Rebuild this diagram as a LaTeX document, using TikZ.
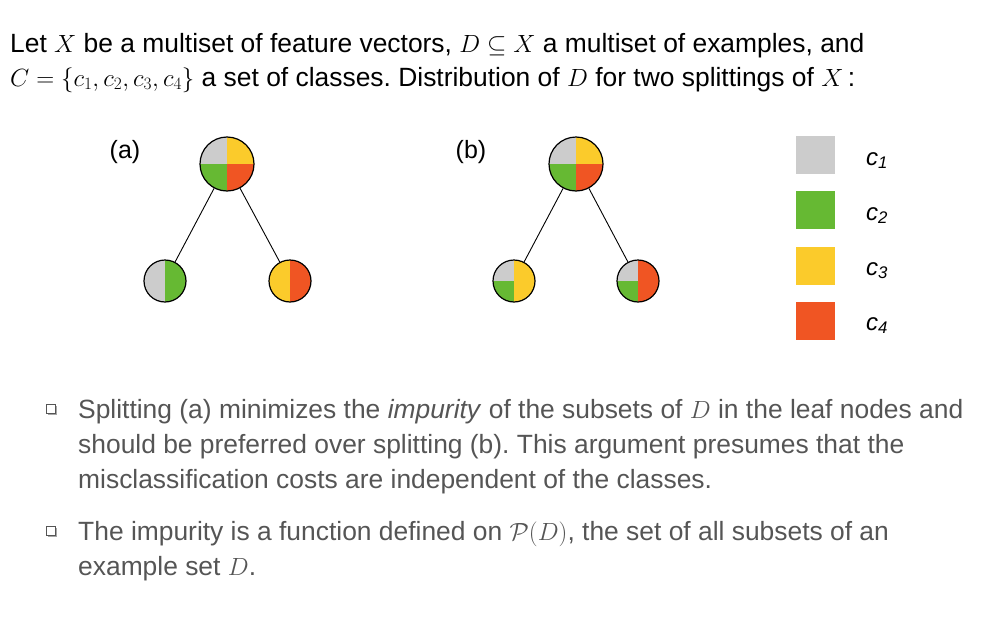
\documentclass[tikz,border=0pt]{standalone}
\usepackage[no-math]{fontspec}
\setmainfont{Liberation Sans}
\frenchspacing
\definecolor{cgray}{RGB}{204,204,204}
\definecolor{cgreen}{RGB}{102,185,51}
\definecolor{cyellow}{RGB}{251,203,43}
\definecolor{cred}{RGB}{240,85,35}
\definecolor{btext}{RGB}{85,85,85}
\newcommand{\pieq}[5]{\fill[#5] (#1) -- ++(#3:#2) arc[start angle=#3,end angle=#4,radius=#2] -- cycle;}
\tikzset{
  rootn/.style={circle,draw=black,line width=1.2pt,minimum size=54pt,inner sep=0pt},
  leafn/.style={circle,draw=black,line width=1.2pt,minimum size=42pt,inner sep=0pt},
  edge/.style={draw=black,line width=0.9pt},
  txt/.style={anchor=base west,inner sep=0pt,font=\fontsize{26.4}{34}\selectfont},
  btxt/.style={txt,text=btext},
  legbox/.style={minimum width=39pt,minimum height=38pt,inner sep=0pt},
  leglab/.style={anchor=base west,inner sep=0pt,font=\fontsize{24}{28}\selectfont\itshape},
  sublab/.style={inner sep=0pt,font=\fontsize{25}{30}\selectfont},
}
\newcommand{\bulletbox}[2]{%
  \fill[gray!70] (#1+1.5,#2-1.5) rectangle ++(9,-9);
  \draw[btext,fill=white,line width=0.8pt] (#1,#2) rectangle ++(9,-9);}
\begin{document}
\begin{tikzpicture}[x=1pt,y=1pt]
\useasboundingbox (0,0) rectangle (988,-629);
% header text
\node[txt] (t1) at (10,-52) {Let $X$ be a multiset of feature vectors, $D\subseteq X$ a multiset of examples, and};
\node[txt] (t2) at (10,-86) {$C=\{c_1,c_2,c_3,c_4\}$ a set of classes. Distribution of $D$ for two splittings of $X$\,:};
% labels
\node[sublab] (la) at (125,-152) {(a)};
\node[sublab] (lb) at (471,-152) {(b)};
% tree (a)
\coordinate (A0) at (227,-164);
\coordinate (A1) at (165,-281);
\coordinate (A2) at (290,-281);
\pieq{A0}{27}{90}{180}{cgray}
\pieq{A0}{27}{0}{90}{cyellow}
\pieq{A0}{27}{180}{270}{cgreen}
\pieq{A0}{27}{270}{360}{cred}
\pieq{A1}{21}{90}{270}{cgray}
\pieq{A1}{21}{-90}{90}{cgreen}
\pieq{A2}{21}{90}{270}{cyellow}
\pieq{A2}{21}{-90}{90}{cred}
\node[rootn] (ra) at (A0) {};
\node[leafn] (ra1) at (A1) {};
\node[leafn] (ra2) at (A2) {};
\draw[edge] (ra) -- (ra1);
\draw[edge] (ra) -- (ra2);
% tree (b)
\coordinate (B0) at (576,-164);
\coordinate (B1) at (514,-281);
\coordinate (B2) at (638,-281);
\pieq{B0}{27}{90}{180}{cgray}
\pieq{B0}{27}{0}{90}{cyellow}
\pieq{B0}{27}{180}{270}{cgreen}
\pieq{B0}{27}{270}{360}{cred}
\pieq{B1}{21}{90}{180}{cgray}
\pieq{B1}{21}{180}{270}{cgreen}
\pieq{B1}{21}{-90}{90}{cyellow}
\pieq{B2}{21}{90}{180}{cgray}
\pieq{B2}{21}{180}{270}{cgreen}
\pieq{B2}{21}{-90}{90}{cred}
\node[rootn] (rb) at (B0) {};
\node[leafn] (rb1) at (B1) {};
\node[leafn] (rb2) at (B2) {};
\draw[edge] (rb) -- (rb1);
\draw[edge] (rb) -- (rb2);
% legend
\node[legbox,fill=cgray] (k1) at (815.5,-155) {};
\node[legbox,fill=cgreen] (k2) at (815.5,-210) {};
\node[legbox,fill=cyellow] (k3) at (815.5,-265.5) {};
\node[legbox,fill=cred] (k4) at (815.5,-320.5) {};
\node[leglab] (c1) at (866,-165) {c\textsubscript{1}};
\node[leglab] (c2) at (866,-220) {c\textsubscript{2}};
\node[leglab] (c3) at (866,-275) {c\textsubscript{3}};
\node[leglab] (c4) at (866,-330) {c\textsubscript{4}};
% bullets
\bulletbox{46}{-404}
\node[btxt] (b11) at (78,-418) {Splitting (a) minimizes the \textit{impurity} of the subsets of $D$ in the leaf nodes and};
\node[btxt] (b12) at (78,-453) {should be preferred over splitting (b). This argument presumes that the};
\node[btxt] (b13) at (78,-488) {misclassification costs are independent of the classes.};
\bulletbox{46}{-526}
\node[btxt] (b21) at (78,-540) {The impurity is a function defined on $\mathcal{P}(D)$, the set of all subsets of an};
\node[btxt] (b22) at (78,-575) {example set $D$.};
\end{tikzpicture}
\end{document}
